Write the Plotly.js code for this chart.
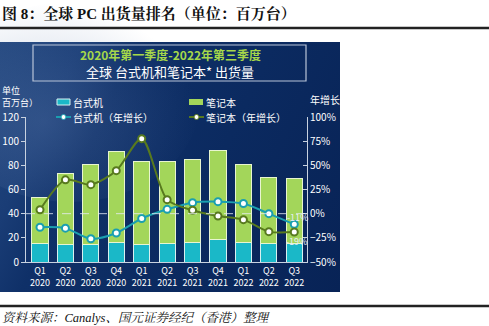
<!DOCTYPE html>
<html><head><meta charset="utf-8">
<script src="https://cdn.plot.ly/plotly-3.0.1.min.js"></script>
<style>
html,body{margin:0;padding:0;background:#fff;}
#wrap{position:relative;width:489px;height:326px;overflow:hidden;}
#panel{position:absolute;left:0;top:42px;width:340px;height:250px;
background:linear-gradient(115deg,#24487f 0%,#1a3d76 18%,#0f3068 30%,#0b2a60 60%,#082356 100%);}
#swoosh{position:absolute;left:-60px;top:-40px;width:260px;height:200px;border-radius:50%;
background:radial-gradient(ellipse at 40% 60%,rgba(90,120,170,0.35),rgba(90,120,170,0) 70%);}
#chart{position:absolute;left:0;top:0;width:489px;height:326px;}
</style></head>
<body><div id="wrap"><div id="panel"><div id="swoosh"></div></div><div id="chart"></div></div>
<script>
const categories = ["Q1<br>2020","Q2<br>2020","Q3<br>2020","Q4<br>2020","Q1<br>2021","Q2<br>2021","Q3<br>2021","Q4<br>2021","Q1<br>2022","Q2<br>2022","Q3<br>2022"];
const desktop = [15.0,14.5,14.5,16.0,14.5,15.0,16.4,18.3,16.2,15.3,15.3];
const notebook = [38.6,58.8,65.8,75.4,68.3,68.3,68.6,74.2,64.1,55.0,53.9];
const desktopGrowth = [-14,-15,-26,-20,-5,4.5,11.4,12.4,10.5,0,-11];
const notebookGrowth = [4,35,30,44.5,77.6,14.5,3.5,-2.4,-6.2,-18.6,-19];

const teal = '#1ab8c8', green = '#a3d65a', gLine = '#587a1e', tLine = '#1a9fb0';
const idx = categories.map((c,i)=>i);
const traces = [
 {type:'bar', x:idx, y:desktop, name:'台式机', marker:{color:teal, line:{color:'#d8f0f0',width:1}}, width:0.63, showlegend:false},
 {type:'bar', x:idx, y:notebook, name:'笔记本', marker:{color:green, line:{color:'#e8f5d0',width:1}}, width:0.63, showlegend:false},
 {type:'scatter', mode:'lines+markers', x:idx, y:desktopGrowth, yaxis:'y2', line:{color:tLine,width:2,shape:'spline',smoothing:0.8},
  marker:{size:7,color:'#ffffff',line:{color:tLine,width:2}}, showlegend:false},
 {type:'scatter', mode:'lines+markers', x:idx, y:notebookGrowth, yaxis:'y2', line:{color:gLine,width:2,shape:'spline',smoothing:0.8},
  marker:{size:7,color:'#ffffff',line:{color:gLine,width:2}}, showlegend:false}
];
const wf = {family:'Noto Sans CJK SC, sans-serif', color:'#ffffff', size:10};
const wf9 = {family:'Noto Sans CJK SC, sans-serif', color:'#ffffff', size:9};
const serif = 'Liberation Serif, Noto Serif CJK SC, Noto Sans CJK SC, serif';
const last = categories.length-1;
const px = v => (v-26)/281, py = v => (262-v)/145;
const layout = {
 width:489, height:326, margin:{l:26,r:182,t:117,b:64},
 paper_bgcolor:'rgba(0,0,0,0)', plot_bgcolor:'rgba(0,0,0,0)',
 barmode:'stack', showlegend:false,
 xaxis:{range:[-0.55,10.5], tickvals:idx, ticktext:categories, showgrid:false, zeroline:false,
   showline:true, linecolor:'#c8d2e0', linewidth:1, ticks:'', tickfont:wf9, fixedrange:true},
 yaxis:{range:[0,120], dtick:20, showgrid:false, zeroline:false, showline:true, linecolor:'#c8d2e0',
   ticks:'outside', ticklen:4, tickcolor:'#c8d2e0', tickfont:wf},
 yaxis2:{range:[-50,100], dtick:25, overlaying:'y', side:'right', showgrid:false, zeroline:false,
   showline:true, linecolor:'#c8d2e0', ticks:'inside', ticklen:4, tickcolor:'#c8d2e0',
   ticksuffix:'%', tickfont:wf},
 shapes:[
  {type:'line', xref:'paper', yref:'y', x0:0, x1:1, y0:40, y1:40, line:{color:'rgba(230,235,245,0.8)',width:1,dash:'dash'}},
  {type:'rect', xref:'paper', yref:'paper', x0:px(33), x1:px(306), y0:py(81), y1:py(45), line:{color:'#b8c4d8',width:1.2}},
  {type:'line', xref:'paper', yref:'paper', x0:px(0), x1:px(489), y0:py(28), y1:py(28), line:{color:'#222',width:2.5}},
  {type:'line', xref:'paper', yref:'paper', x0:px(0), x1:px(489), y0:py(306), y1:py(306), line:{color:'#222',width:2.5}},
  {type:'rect', xref:'paper', yref:'paper', x0:px(57), x1:px(70), y0:py(105), y1:py(99), fillcolor:teal, line:{color:'#d8f0f0',width:1}},
  {type:'rect', xref:'paper', yref:'paper', x0:px(189), x1:px(203), y0:py(105), y1:py(99), fillcolor:green, line:{width:0}},
  {type:'line', xref:'paper', yref:'paper', x0:px(56), x1:px(71), y0:py(117), y1:py(117), line:{color:tLine,width:2}},
  {type:'line', xref:'paper', yref:'paper', x0:px(189), x1:px(204), y0:py(117), y1:py(117), line:{color:gLine,width:2}},
  {type:'circle', xref:'paper', yref:'paper', x0:px(61), x1:px(66), y0:py(119.5), y1:py(114.5), fillcolor:'#fff', line:{color:tLine,width:1}},
  {type:'circle', xref:'paper', yref:'paper', x0:px(194), x1:px(199), y0:py(119.5), y1:py(114.5), fillcolor:'#fff', line:{color:gLine,width:1}}
 ],
 annotations:[
  {xref:'paper', yref:'paper', x:px(0), y:py(14), xanchor:'left', yanchor:'middle', showarrow:false,
   text:'<b>图 8：全球 PC 出货量排名（单位：百万台）</b>', font:{family:serif, size:15, color:'#111'}},
  {xref:'paper', yref:'paper', x:px(0), y:py(318), xanchor:'left', yanchor:'middle', showarrow:false,
   text:'<i>资料来源：Canalys、国元证券经纪（香港）整理</i>', font:{family:serif, size:12.5, color:'#111'}},
  {xref:'paper', yref:'paper', x:px(170), y:py(54), xanchor:'center', yanchor:'middle', showarrow:false,
   text:'<b>2020年第一季度-2022年第三季度</b>', font:{family:'Noto Sans CJK SC, sans-serif', size:12, color:'#a6d84a'}},
  {xref:'paper', yref:'paper', x:px(170), y:py(71), xanchor:'center', yanchor:'middle', showarrow:false,
   text:'全球 台式机和笔记本* 出货量', font:{family:'Noto Sans CJK SC, sans-serif', size:13, color:'#ffffff'}},
  {xref:'paper', yref:'paper', x:px(0), y:py(90), xanchor:'left', yanchor:'middle', showarrow:false,
   text:'单位', font:wf9},
  {xref:'paper', yref:'paper', x:px(0), y:py(102), xanchor:'left', yanchor:'middle', showarrow:false,
   text:'百万台）', font:wf9},
  {xref:'paper', yref:'paper', x:px(308), y:py(99), xanchor:'left', yanchor:'middle', showarrow:false,
   text:'年增长', font:wf},
  {xref:'paper', yref:'paper', x:px(71), y:py(102), xanchor:'left', yanchor:'middle', showarrow:false,
   text:'台式机', font:wf},
  {xref:'paper', yref:'paper', x:px(204), y:py(102), xanchor:'left', yanchor:'middle', showarrow:false,
   text:'笔记本', font:wf},
  {xref:'paper', yref:'paper', x:px(71), y:py(117), xanchor:'left', yanchor:'middle', showarrow:false,
   text:'台式机（年增长）', font:wf},
  {xref:'paper', yref:'paper', x:px(204), y:py(117), xanchor:'left', yanchor:'middle', showarrow:false,
   text:'笔记本（年增长）', font:wf},
  {x:last, y:desktopGrowth[last], yref:'y2', xanchor:'center', yanchor:'middle', xshift:3, yshift:7, showarrow:false,
   text:desktopGrowth[last]+'%', font:{family:'Noto Sans CJK SC, sans-serif', size:9, color:'#e8eef8'}},
  {x:last, y:notebookGrowth[last], yref:'y2', xanchor:'center', yanchor:'middle', xshift:2, yshift:-9, showarrow:false,
   text:notebookGrowth[last]+'%', font:{family:'Noto Sans CJK SC, sans-serif', size:9, color:'#e8eef8'}}
 ]
};
Plotly.newPlot('chart', traces, layout, {displayModeBar:false, staticPlot:true});
</script></body></html>
